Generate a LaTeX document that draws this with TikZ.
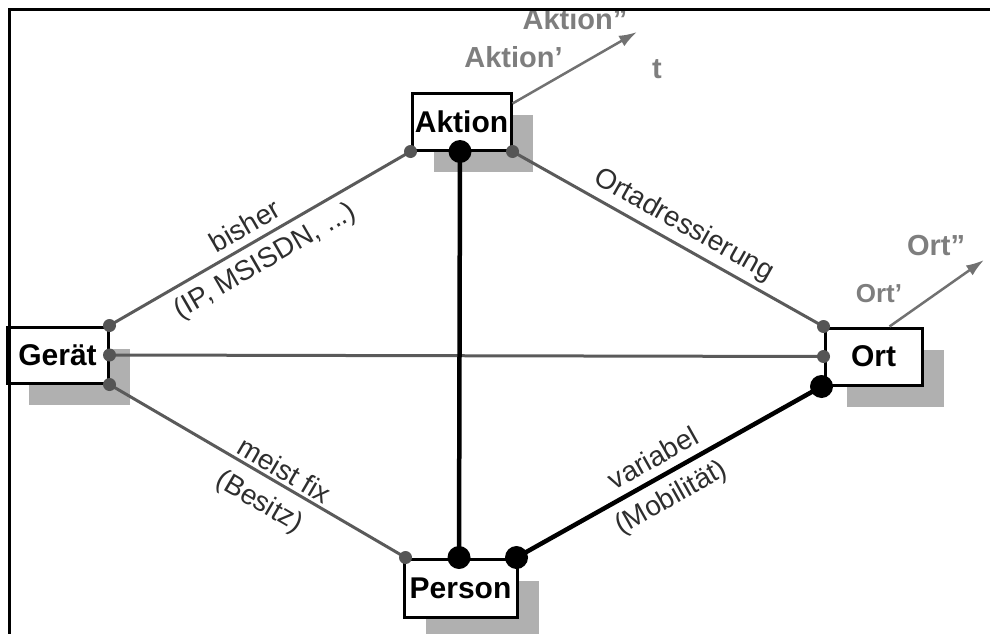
\documentclass[tikz,border=0pt]{standalone}
\usepackage{fontspec}
\setmainfont{Liberation Sans}
\usetikzlibrary{arrows.meta,shadows}
\definecolor{edgegray}{HTML}{5A5A5A}
\definecolor{dotgray}{HTML}{555555}
\definecolor{shadowgray}{HTML}{B0B0B0}
\definecolor{textgray}{HTML}{7E7E7E}
\definecolor{lblcol}{HTML}{2E2E2E}
\tikzset{
  boxnode/.style={draw=black, line width=3pt, fill=white, inner sep=0pt,
    font=\fontsize{30}{36}\selectfont\bfseries,
    drop shadow={shadow xshift=22pt, shadow yshift=-22pt, opacity=1, fill=shadowgray}},
  smalldot/.style={circle, fill=dotgray, inner sep=0pt, minimum size=13pt},
  bigdot/.style={circle, fill=black, inner sep=0pt, minimum size=23pt},
  grayedge/.style={draw=edgegray, line width=3pt},
  blackedge/.style={draw=black, line width=4.5pt},
  lbl/.style={sloped, text=lblcol, font=\fontsize{28}{33}\selectfont, inner xsep=0pt},
  timetext/.style={text=textgray, font=\fontsize{29}{34}\selectfont\bfseries, inner sep=0pt, anchor=base},
  timearrow/.style={draw=textgray!90!black, line width=2.5pt, -{Latex[length=18pt,width=12pt]}},
  frameline/.style={draw=black, line width=3pt}
}
\begin{document}
\begin{tikzpicture}[x=1pt,y=-1pt]
\useasboundingbox (0,0) rectangle (990,634);

% boxes (with shadows)
\node[boxnode, minimum width=99pt, minimum height=57pt] (aktion) at (461.5,121.5) {Aktion};
\node[boxnode, minimum width=101pt, minimum height=56pt] (geraet) at (57.5,355) {Gerät};
\node[boxnode, minimum width=97pt, minimum height=57pt] (ort) at (873.5,356.5) {Ort};
\node[boxnode, minimum width=113pt, minimum height=58pt] (person) at (460.5,588) {Person};

% dot positions
\coordinate (a1) at (aktion.south west);
\coordinate (a2) at ([xshift=-1.5pt]aktion.south);
\coordinate (a3) at (aktion.south east);
\coordinate (g1) at (geraet.north east);
\coordinate (g2) at (geraet.east);
\coordinate (g3) at (geraet.south east);
\coordinate (o1) at (ort.north west);
\coordinate (o2) at (ort.west);
\coordinate (o3) at ([xshift=-2pt]ort.south west);
\coordinate (p1) at ([xshift=3pt]person.north west);
\coordinate (p2) at ([xshift=-1.5pt]person.north);
\coordinate (p3) at ([xshift=-2pt]person.north east);

% connectors
\draw[grayedge] (g1) -- (a1)
  node[lbl, pos=.48, anchor=south, inner ysep=7pt] {bisher}
  node[lbl, pos=.48, anchor=north, inner ysep=8pt] {(IP, MSISDN, ...)};
\draw[grayedge] (a3) -- (o1)
  node[lbl, pos=.52, anchor=south, inner ysep=5pt] {Ortadressierung};
\draw[grayedge] (g2) -- (o2);
\draw[grayedge] (g3) -- (p1)
  node[lbl, pos=.567, anchor=south, inner ysep=3pt] {meist fix}
  node[lbl, pos=.55, anchor=north, inner ysep=12pt] {(Besitz)};
\draw[blackedge] (a2) -- (p2);
\draw[blackedge] (p3) -- (o3)
  node[lbl, pos=.48, anchor=south, inner ysep=8pt] {variabel}
  node[lbl, pos=.47, anchor=north, inner ysep=9pt] {(Mobilität)};

% dot nodes
\node[smalldot] (da1) at (a1) {};
\node[bigdot]   (da2) at (a2) {};
\node[smalldot] (da3) at (a3) {};
\node[smalldot] (dg1) at (g1) {};
\node[smalldot] (dg2) at (g2) {};
\node[smalldot] (dg3) at (g3) {};
\node[smalldot] (do1) at (o1) {};
\node[smalldot] (do2) at (o2) {};
\node[bigdot]   (do3) at (o3) {};
\node[smalldot] (dp1) at (p1) {};
\node[bigdot]   (dp2) at (p2) {};
\node[bigdot]   (dp3) at (p3) {};

% time arrows
\coordinate (atip) at (637,32);
\coordinate (otip) at (984,260);
\draw[timearrow] ([yshift=-12pt]aktion.north east) -- (atip);
\draw[timearrow] ([xshift=16pt]ort.north) -- (otip);

\begin{scope}
\clip (0,10) rectangle (990,634);
\node[timetext] (ak2) at (575,30) {Aktion”};
\end{scope}
\node[timetext] (ak1) at (513.5,67) {Aktion’};
\node[timetext] (tt) at (657,78) {t};
\node[timetext] (or2) at (936,255) {Ort”};
\node[timetext, font=\fontsize{26}{30}\selectfont\bfseries] (or1) at (879,302) {Ort’};

% frame
\draw[frameline] (9,634) -- (9,10) -- (990,10);
\end{tikzpicture}
\end{document}
